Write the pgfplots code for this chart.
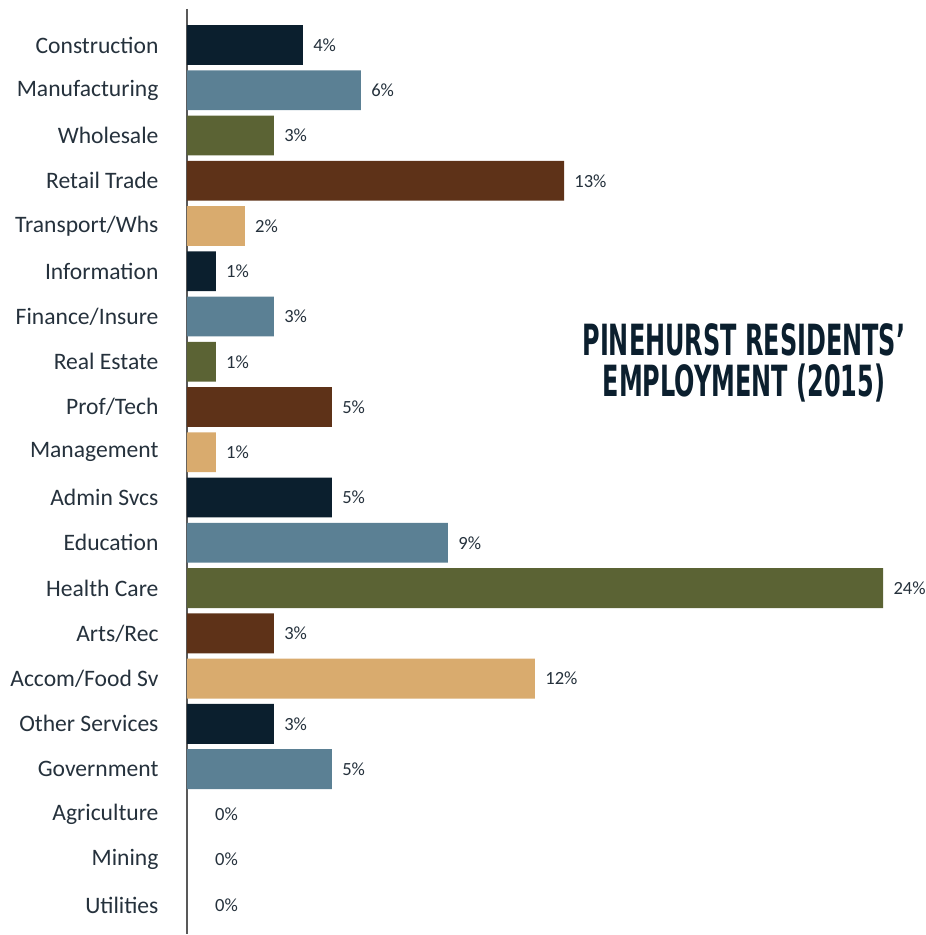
\documentclass[border=0pt]{standalone}
\usepackage{fontspec}
\setmainfont{Carlito}
\newfontfamily\titlefont{DejaVu Sans Condensed}
\usepackage{graphicx}
\usepackage{pgfplots}
\pgfplotsset{compat=1.18}
\definecolor{cnavy}{HTML}{0B1F2E}
\definecolor{cslate}{HTML}{5B8094}
\definecolor{colive}{HTML}{5B6334}
\definecolor{cbrown}{HTML}{5E3218}
\definecolor{ctan}{HTML}{D9AB6E}
\definecolor{ctext}{HTML}{25313C}
\begin{document}
\begin{tikzpicture}
\begin{axis}[
  scale only axis,
  width=348.5pt, height=463pt,
  xmin=0, xmax=24,
  ymin=-0.795, ymax=19.645,
  y dir=reverse,
  xbar, bar width=0.88, bar shift=0pt,
  axis x line=none,
  axis y line*=left,
  y axis line style={color=black!65, line width=0.9pt, -},
  ytick={0,...,19},
  yticklabels={Construction,Manufacturing,Wholesale,Retail Trade,Transport/Whs,Information,Finance/Insure,Real Estate,Prof/Tech,Management,Admin Svcs,Education,Health Care,Arts/Rec,Accom/Food Sv,Other Services,Government,Agriculture,Mining,Utilities},
  major tick length=0pt,
  yticklabel style={inner sep=0pt, xshift=-14pt, font=\fontsize{11.8}{13}\selectfont, text=ctext},
  nodes near coords={\pgfmathprintnumber[assume math mode=true]{\pgfplotspointmeta}\%},
  nodes near coords style={anchor=west, inner sep=0pt, xshift=5pt, font=\fontsize{9.3}{10}\selectfont, text=ctext},
  point meta=x,
  clip=false,
]
\addplot[fill=cnavy, draw=none] coordinates {(4,0) (1,5) (5,10) (3,15)};
\addplot[fill=cslate, draw=none] coordinates {(6,1) (3,6) (9,11) (5,16)};
\addplot[fill=colive, draw=none] coordinates {(3,2) (1,7) (24,12)};
\addplot[fill=cbrown, draw=none] coordinates {(13,3) (5,8) (3,13)};
\addplot[fill=ctan, draw=none] coordinates {(2,4) (1,9) (12,14)};
\addplot[draw=none, fill=none, nodes near coords style={xshift=9pt}] coordinates {(0,17) (0,18) (0,19)};
\node[align=center, text=cnavy, inner sep=0pt] at (axis cs:19.2,7.05) {\scalebox{0.65}[1.05]{\titlefont\bfseries\fontsize{20.5}{14}\selectfont\renewcommand{\arraystretch}{0.9}\begin{tabular}{@{}c@{}}PINEHURST RESIDENTS’\\EMPLOYMENT (2015)\end{tabular}}};
\coordinate (sw) at (rel axis cs:0,0);
\end{axis}
\path (sw) ++(-93.5pt,0) rectangle ++(462.5pt,467.5pt);
\end{tikzpicture}
\end{document}
